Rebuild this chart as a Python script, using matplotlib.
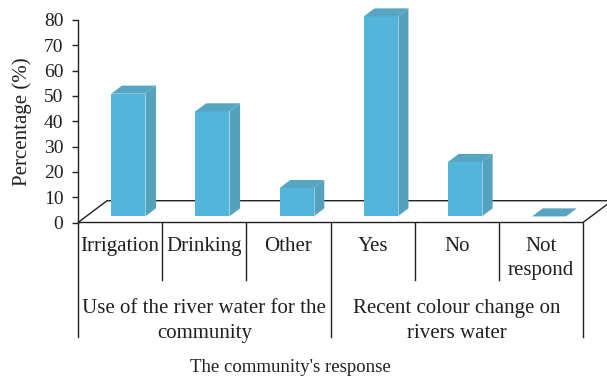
import matplotlib
matplotlib.use('Agg')
import matplotlib.pyplot as plt
from matplotlib.patches import Polygon

plt.rcParams['font.family'] = ['Liberation Serif', 'DejaVu Serif']
plt.rcParams['font.size'] = 15

# survey responses (%)
categories = ['Irrigation', 'Drinking', 'Other', 'Yes', 'No', 'Not\nrespond']
percent = [48.5, 41.5, 11.2, 79.0, 21.5, 0.0]
groups = ['Use of the river water for the\ncommunity',
          'Recent colour change on\nrivers water']
group_sizes = [3, 3]
yticks = list(range(0, 81, 10))

ink = '#231f20'
front_col = '#52b5d9'
side_col = '#54a1be'
top_col = '#56a5c2'

# depth of the floor (x in category units, y in % units)
depth_x, depth_y = 0.345, 8.6
bar_w = 0.404
t_front, t_back = 0.28, 0.65

fig = plt.figure(figsize=(6.07, 3.76), dpi=100)
ax = fig.add_axes([78 / 607, 1 - 222.5 / 376, 505 / 607, 202.5 / 376])
n = len(categories)
ax.set_xlim(0, n)
ax.set_ylim(0, 80)

# floor
floor = Polygon([(0, 0), (n, 0), (n + depth_x, depth_y), (depth_x, depth_y)],
                closed=True, facecolor='white', edgecolor=ink, lw=1.0,
                clip_on=False, zorder=1)
ax.add_patch(floor)

# pseudo-3D columns
for i, v in enumerate(percent):
    x0 = i + 0.5 - bar_w / 2 + t_front * depth_x
    y0 = t_front * depth_y
    x1 = x0 + bar_w
    ox = (t_back - t_front) * depth_x
    oy = (t_back - t_front) * depth_y
    top = y0 + v
    face = Polygon([(x0, y0), (x1, y0), (x1, top), (x0, top)],
                   facecolor=front_col, edgecolor='none', clip_on=False, zorder=3)
    side = Polygon([(x1, y0), (x1 + ox, y0 + oy), (x1 + ox, top + oy), (x1, top)],
                   facecolor=side_col, edgecolor='none', clip_on=False, zorder=3)
    lid = Polygon([(x0, top), (x1, top), (x1 + ox, top + oy), (x0 + ox, top + oy)],
                  facecolor=top_col, edgecolor='none', clip_on=False, zorder=3)
    for p in (face, side, lid):
        ax.add_patch(p)
    if v > 0:
        ax.plot([x1, x1], [y0, top], color='#a6d8ea', lw=0.6, zorder=4,
                clip_on=False)

# axes styling
for s in ('top', 'right', 'bottom'):
    ax.spines[s].set_visible(False)
ax.spines['left'].set_color(ink)
ax.spines['left'].set_linewidth(1.0)
ax.set_yticks(yticks)
ax.tick_params(axis='y', length=4.5, width=1.0, color=ink, pad=6,
               labelsize=14, labelcolor=ink)
ax.set_xticks([])

# category table below the floor
inner_bottom = -22.7
group_bottom = -45.2
edges = [0]
for g in group_sizes:
    edges.append(edges[-1] + g)
for k in range(n + 1):
    yb = group_bottom if k in edges else inner_bottom
    ax.plot([k, k], [0, yb], color=ink, lw=1.0, clip_on=False, zorder=2)

for i, c in enumerate(categories):
    ax.text(i + 0.5, -5.8, c, ha='center', va='top', color=ink,
            linespacing=1.34, clip_on=False)

for j, g in enumerate(groups):
    mid = (edges[j] + edges[j + 1]) / 2
    ax.text(mid, -30.3, g, ha='center', va='top', color=ink,
            linespacing=1.39, clip_on=False)

ax.text(2.52, -58.9, "The community's response", ha='center', va='baseline',
        fontsize=13.5, color=ink, clip_on=False)
ax.text(-0.111, 0.496, 'Percentage (%)', rotation=90, ha='center',
        va='center', color=ink, transform=ax.transAxes)

fig.savefig('out.png', dpi=100)
